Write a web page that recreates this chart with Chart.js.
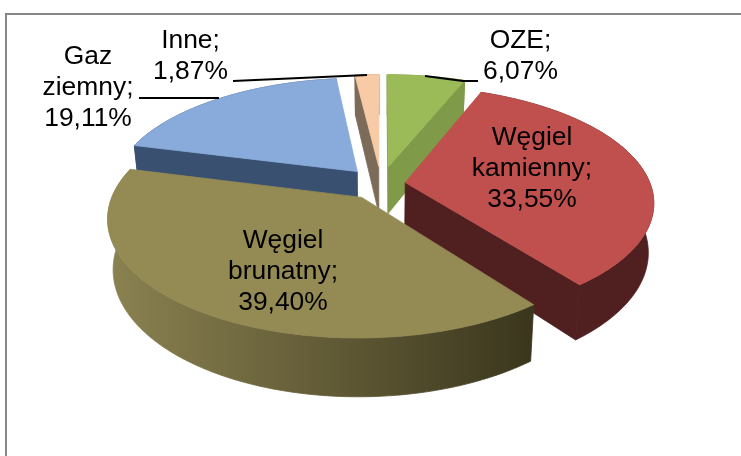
<!DOCTYPE html>
<html>
<head>
<meta charset="utf-8">
<style>
  html, body { margin: 0; padding: 0; background: #fff; overflow: hidden; }
  canvas { display: block; }
</style>
<script src="https://cdn.jsdelivr.net/npm/chart.js@4"></script>
</head>
<body>
<canvas id="pie" width="741" height="456"></canvas>
<script>
const categories = ['OZE', 'Węgiel kamienny', 'Węgiel brunatny', 'Gaz ziemny', 'Inne'];
const shares = [6.07, 33.55, 39.40, 19.11, 1.87];

// how far each slice is pulled out, as a fraction of the radius
const explode = [0.16, 0.10, 0.14, 0.15, 0.16];

const topColors = ['#9BBB59', '#C0504D', '#948A54', '#88ABDB', '#F8CBA6'];
const cutColors = ['#7F9A48', '#4F201F', '#4A4526', '#3A5070', '#7D6B5A'];
const rimColors = [['#7F9A48', '#6E8640'], ['#4F201F', '#4F201F'], ['#8B8251', '#3A361D'], ['#3A5070', '#3A5070'], ['#7D6B5A', '#7D6B5A']];

// back slices first so the front ones cover them
const drawOrder = [4, 3, 0, 1, 2];

const tilt = 0.459;       // vertical squash of the disc
const perspective = 0.165;
const thickness = 48;
const bottomShrink = 0.98;

// label centre x and first line y, leader lines, same order as categories
const labelPos = [[520.5, 41], [532, 138], [283, 240.5], [88, 57], [190.5, 41]];
const lineHeight = 31;
const leaders = [
    [[425, 76], [463, 81], [478, 81]],
    [],
    [],
    [[139, 98], [219, 98]],
    [[233, 81], [367, 75]]
];

function labelLines(i) {
    const words = categories[i].split(' ');
    words[words.length - 1] += ';';
    return words.concat(shares[i].toFixed(2).replace('.', ',') + '%');
}

const pie3d = {
    id: 'pie3d',
    beforeDraw(chart) {
        const ctx = chart.ctx;
        ctx.save();
        ctx.strokeStyle = '#868686';
        ctx.lineWidth = 2;
        ctx.beginPath();
        ctx.moveTo(6, 456);
        ctx.lineTo(6, 14);
        ctx.lineTo(741, 14);
        ctx.stroke();
        ctx.restore();
    },
    beforeDatasetDraw(chart, args) {
        const ctx = chart.ctx;
        const arcs = args.meta.data;

        drawOrder.forEach((i) => {
            const arc = arcs[i];
            const cx = arc.x, cy = arc.y, R = arc.outerRadius;
            const start = arc.startAngle + Math.PI / 2;
            const end = arc.endAngle + Math.PI / 2;
            const mid = (start + end) / 2;
            const du = explode[i] * Math.sin(mid);
            const dv = explode[i] * Math.cos(mid);

            // r and angle on the disc to a canvas point, low = bottom face
            const proj = (r, a, low) => {
                const U = du + r * Math.sin(a);
                const V = dv + r * Math.cos(a);
                const w = 1 + perspective * V;
                let x = R * U / w;
                let y = -R * tilt * V / w;
                if (low) {
                    x *= bottomShrink;
                    y += thickness / w;
                }
                return [cx + x, cy + y];
            };
            const steps = Math.max(4, Math.ceil((end - start) / 0.015));
            const rim = (low) => {
                const pts = [];
                for (let s = 0; s <= steps; s++) {
                    pts.push(proj(1, start + (end - start) * s / steps, low));
                }
                return pts;
            };
            const fillPoly = (pts, fill, seam) => {
                ctx.beginPath();
                pts.forEach((p, n) => (n ? ctx.lineTo(p[0], p[1]) : ctx.moveTo(p[0], p[1])));
                ctx.closePath();
                ctx.fillStyle = fill;
                ctx.fill();
                if (seam) {
                    // hides the pale antialiased line between two walls
                    ctx.strokeStyle = fill;
                    ctx.lineWidth = 0.8;
                    ctx.stroke();
                }
            };

            const topRim = rim(false);
            const lowRim = rim(true);

            // outer wall
            const xs = topRim.map((p) => p[0]);
            const grad = ctx.createLinearGradient(Math.min(...xs), 0, Math.max(...xs), 0);
            grad.addColorStop(0, rimColors[i][0]);
            grad.addColorStop(1, rimColors[i][1]);
            fillPoly(topRim.concat(lowRim.slice().reverse()), grad, true);

            // cut faces, only when the slice lies above the edge on screen
            const apex = proj(0, start, false);
            const midRim = proj(1, mid, false);
            [start, end].forEach((a) => {
                const edge = proj(1, a, false);
                const dx = edge[0] - apex[0];
                if (Math.abs(dx) < 1) return;
                const lineY = apex[1] + (edge[1] - apex[1]) * (midRim[0] - apex[0]) / dx;
                if (midRim[1] > lineY) return;
                fillPoly([proj(0, a, false), edge, proj(1, a, true), proj(0, a, true)], cutColors[i], true);
            });

            // top face
            fillPoly([apex].concat(topRim), topColors[i], true);
        });
        return false;
    },
    afterDatasetsDraw(chart) {
        const ctx = chart.ctx;
        ctx.save();
        ctx.strokeStyle = '#000';
        ctx.lineWidth = 2;
        leaders.forEach((pts) => {
            if (!pts.length) return;
            ctx.beginPath();
            pts.forEach((p, n) => (n ? ctx.lineTo(p[0], p[1]) : ctx.moveTo(p[0], p[1])));
            ctx.stroke();
        });
        ctx.fillStyle = '#000';
        ctx.font = '26.4px "Liberation Sans"';
        ctx.textAlign = 'center';
        ctx.textBaseline = 'middle';
        categories.forEach((c, i) => {
            labelLines(i).forEach((line, n) => {
                ctx.fillText(line, labelPos[i][0], labelPos[i][1] + n * lineHeight);
            });
        });
        ctx.restore();
    }
};

new Chart(document.getElementById('pie'), {
    type: 'pie',
    data: {
        labels: categories,
        datasets: [{
            data: shares,
            backgroundColor: topColors,
            borderWidth: 0
        }]
    },
    options: {
        responsive: false,
        animation: false,
        radius: 245,
        layout: { padding: { left: 21, right: 0, top: 0, bottom: 88 } },
        plugins: {
            legend: { display: false },
            tooltip: { enabled: false }
        }
    },
    plugins: [pie3d]
});
</script>
</body>
</html>
